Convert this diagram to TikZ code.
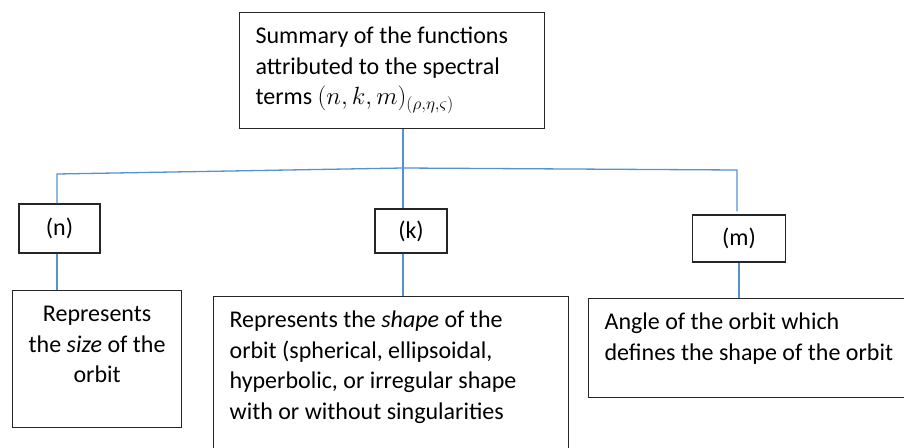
\documentclass[tikz,border=0pt]{standalone}
\usepackage{fontspec}
\setmainfont{Carlito}
\usetikzlibrary{calc,positioning}
\definecolor{linkblue}{RGB}{84,146,210}
% text block of fixed size, top aligned
\newcommand{\boxtxt}[3]{\parbox[t][#2][t]{#1}{#3}}

\begin{document}
\begin{tikzpicture}[x=1pt,y=-1pt,
    every node/.style={font=\fontsize{24}{30.5}\selectfont},
    frame/.style={draw=black!85, line width=1.2pt, anchor=north west, inner xsep=16pt, inner ysep=10pt},
    tag/.style={draw=black!85, line width=1.2pt, inner sep=0pt},
    link/.style={draw=linkblue, line width=1.3pt}]

    \useasboundingbox (0,0) rectangle (904,447);

    % top box
    \node[frame] (sum) at (239,12) {\boxtxt{273pt}{96pt}{\raggedright\strut Summary of the functions\\ attributed to the spectral\\ terms $(n,k,m)_{(\rho,\eta,\varsigma)}$}};

    % spectral terms
    \node[tag, minimum width=81pt, minimum height=49pt] (n) at (59.5,228.5) {(n)};
    \node[tag, minimum width=72pt, minimum height=44pt] (k) at (411,231) {(k)};
    \node[tag, minimum width=93pt, minimum height=47pt] (m) at (739,238.5) {(m)};

    % descriptions
    \node[frame] (size) at (12,290) {\boxtxt{137pt}{117pt}{\centering\strut Represents\\ the \textit{size} of the\\ orbit}};
    \node[frame] (shape) at (213,296) {\boxtxt{323pt}{145pt}{\raggedright\strut Represents the \textit{shape} of the\\ orbit (spherical, ellipsoidal,\\ hyperbolic, or irregular shape\\ with or without singularities}};
    \node[frame] (angle) at (588,298) {\boxtxt{300pt}{79pt}{\raggedright\strut Angle of the orbit which\\ defines the shape of the orbit}};

    % connectors
    \coordinate (hub) at (403,168);
    \coordinate (busL) at (57,174);
    \coordinate (busR) at (737,170);

    \draw[link] (sum.south -| hub) -- (hub |- k.north);
    \draw[link] (hub) -- (busL) -- (busL |- n.north);
    \draw[link] (hub) -- (busR) -- ([yshift=3pt]busR |- m.north);

    \draw[link] (busL |- n.south) -- (busL |- size.north);
    \draw[link] (hub |- k.south) -- (hub |- shape.north);
    \draw[link] (m.south) -- (m.south |- angle.north);
\end{tikzpicture}
\end{document}
